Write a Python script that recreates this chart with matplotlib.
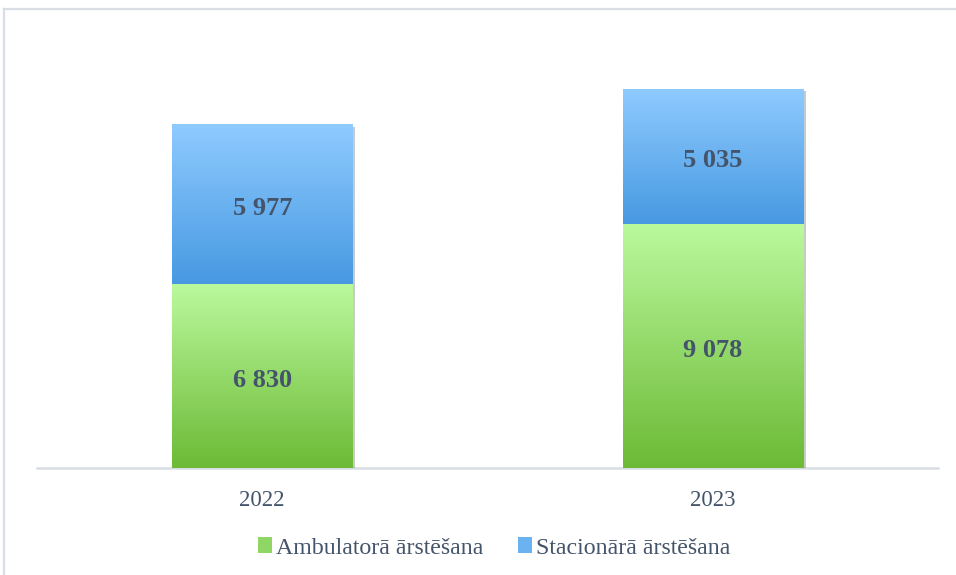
import matplotlib.pyplot as plt
import matplotlib.patheffects as pe
from matplotlib.patches import Patch
from matplotlib.lines import Line2D
import numpy as np

gadi = ["2022", "2023"]
ambulatora = [6830, 9078]
stacionara = [5977, 5035]
serijas = ["Ambulatorā ārstēšana", "Stacionārā ārstēšana"]

plt.rcParams['font.family'] = ['Liberation Serif', 'DejaVu Serif']
teksta_krasa = '#44546A'

zals_aug = '#BBF99D'
zals_apa = '#6CBA36'
zils_aug = '#8FCBFF'
zils_apa = '#4799E2'


def krasa(hex_str):
    hex_str = hex_str.lstrip('#')
    return np.array([int(hex_str[i:i + 2], 16) / 255 for i in (0, 2, 4)])


def gradients(ax, bar, augsa, apaksa):
    x0, y0 = bar.get_x(), bar.get_y()
    w, h = bar.get_width(), bar.get_height()
    t = np.linspace(0, 1, 256)[:, None]
    img = (1 - t) * krasa(apaksa) + t * krasa(augsa)
    img = img[:, None, :]
    im = ax.imshow(img, extent=(x0, x0 + w, y0, y0 + h), origin='lower',
                   aspect='auto', zorder=3, interpolation='bilinear')
    im.set_clip_path(bar)


def uzraksts(ax, xv, yv, vertiba):
    ax.annotate(f"{vertiba:,}".replace(",", " "), (xv, yv), xytext=(0, -3),
                textcoords='offset points', ha='center', va='center',
                fontsize=19, fontweight='bold', color=teksta_krasa, zorder=5)


fig = plt.figure(figsize=(9.56, 5.75), dpi=100)
ax = fig.add_axes([37 / 956, 1 - 468 / 575, 901 / 956, 430 / 575])

x = np.arange(len(gadi))
platums = 0.4
ena = [pe.SimplePatchShadow(offset=(2, -2), alpha=0.25), pe.Normal()]
b1 = ax.bar(x, ambulatora, width=platums, color=zals_apa, zorder=2, path_effects=ena)
b2 = ax.bar(x, stacionara, width=platums, bottom=ambulatora, color=zils_apa, zorder=2,
            path_effects=ena)

for bar in b1:
    gradients(ax, bar, zals_aug, zals_apa)
for bar in b2:
    gradients(ax, bar, zils_aug, zils_apa)

for i in range(len(gadi)):
    uzraksts(ax, x[i], ambulatora[i] / 2, ambulatora[i])
    uzraksts(ax, x[i], ambulatora[i] + stacionara[i] / 2, stacionara[i])

ax.set_xlim(-0.5, 1.5)
ax.set_ylim(0, 16000)
ax.set_xticks(x)
ax.set_xticklabels(gadi, fontsize=16.5, color=teksta_krasa)
ax.tick_params(axis='x', length=0, pad=16)
ax.set_yticks([])
for s in ['top', 'right', 'left']:
    ax.spines[s].set_visible(False)
ax.spines['bottom'].set_color('#D9DDE3')
ax.spines['bottom'].set_linewidth(1.8)
ax.spines['bottom'].set_zorder(1)

rokturi = [Patch(facecolor='#8FD665', edgecolor='none'),
           Patch(facecolor='#6AB3F0', edgecolor='none')]
fig.legend(rokturi, serijas, loc='center', bbox_to_anchor=(494 / 956, 1 - 548 / 575),
           ncol=2, frameon=False, fontsize=17.2, handlelength=0.6, handleheight=0.6,
           handletextpad=0.15, columnspacing=1.45, labelcolor=teksta_krasa)

# ramis ap diagrammu
fig.add_artist(Line2D([4 / 956, 4 / 956], [0, 1 - 9 / 575], transform=fig.transFigure,
                      color='#D9DEE5', linewidth=1.6))
fig.add_artist(Line2D([4 / 956, 1], [1 - 9 / 575, 1 - 9 / 575], transform=fig.transFigure,
                      color='#D9DEE5', linewidth=1.6))

fig.savefig("out.png", dpi=100)
